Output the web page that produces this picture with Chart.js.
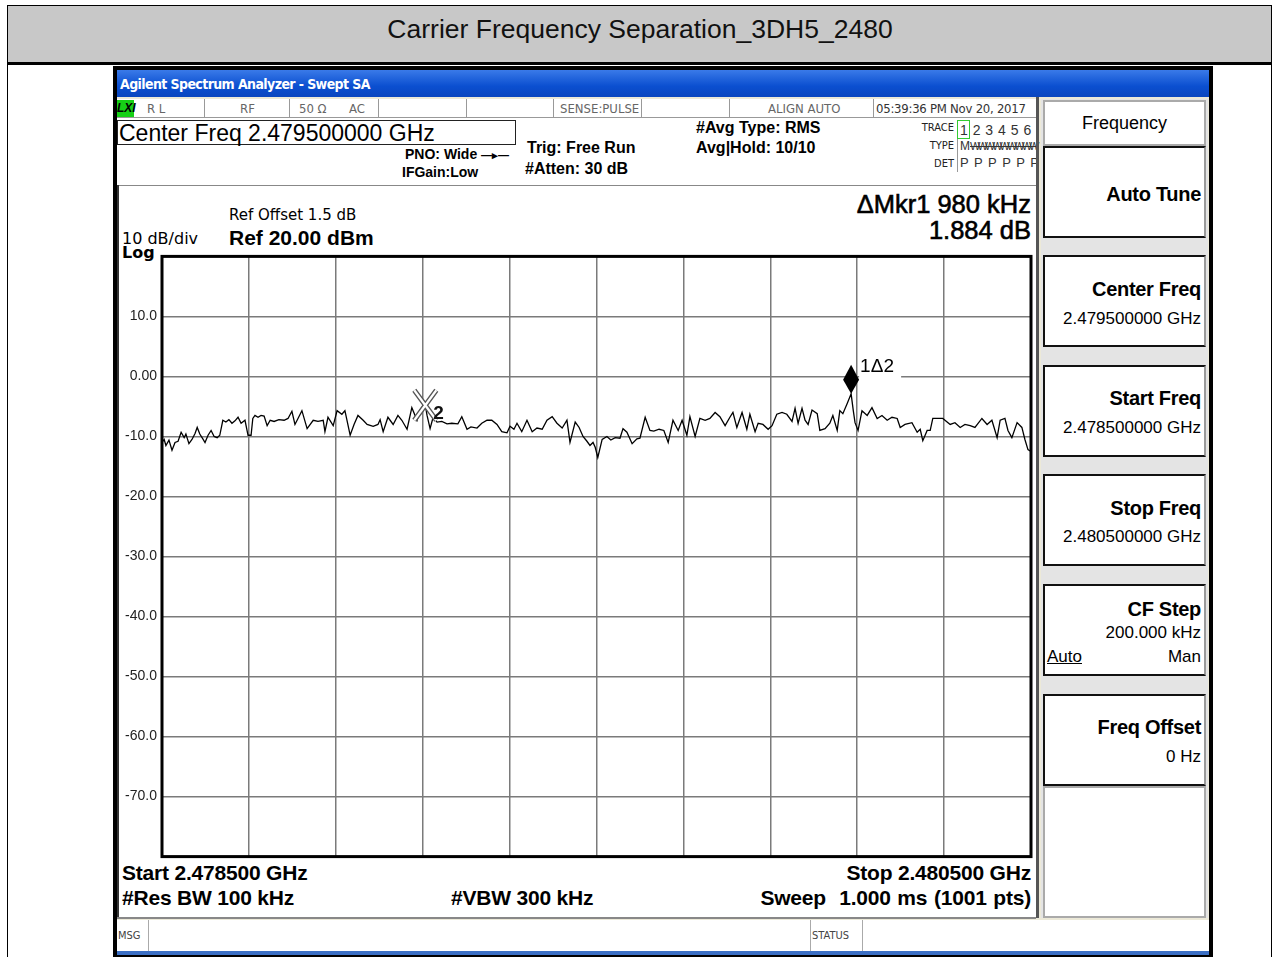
<!DOCTYPE html>
<html>
<head>
<meta charset="utf-8">
<script src="https://cdn.jsdelivr.net/npm/chart.js@4/dist/chart.umd.min.js"></script>
<style>
  body { margin: 0; width: 1273px; height: 957px; overflow: hidden; background: #fff;
         font-family: Arial, "Liberation Sans", sans-serif; position: relative; }
  .a { position: absolute; white-space: nowrap; line-height: 1; }
  .box { position: absolute; box-sizing: border-box; }
  .st { font-size: 13px; color: #666; font-family: "DejaVu Sans Condensed", "Liberation Sans Narrow", Arial, sans-serif; }
  .sep { position: absolute; top: 99px; height: 19px; width: 1px; background: #999; }
  .b15 { font-size: 16px; font-weight: bold; }
  .dv { font-family: "DejaVu Sans", Verdana, sans-serif; }
  .key { position: absolute; left: 1043px; width: 163px; height: 92px; box-sizing: border-box; background: #fff;
         border: 2px solid #111; border-right-color: #9a9a9a; }
  .kt { position: absolute; right: 3px; font-size: 20px; font-weight: bold; line-height: 1; letter-spacing: -0.3px; }
  .kv { position: absolute; right: 3px; font-size: 17px; line-height: 1; }
  .bot { font-size: 21px; font-weight: bold; letter-spacing: -0.2px; }
</style>
</head>
<body>
<!-- report title -->
<div class="box" style="left:7px;top:5px;width:1265px;height:60px;background:#c8c8c8;border:1px solid #000;border-bottom:3px solid #000;"></div>
<div class="a" style="left:0;width:1280px;text-align:center;top:16px;font-size:26.5px;color:#111;">Carrier Frequency Separation_3DH5_2480</div>
<div class="box" style="left:7px;top:64px;width:1px;height:893px;background:#000;"></div>
<div class="box" style="left:1271px;top:64px;width:1px;height:893px;background:#000;"></div>

<!-- analyzer frame -->
<div class="box" style="left:113px;top:66px;width:1100px;height:891px;background:#000;"></div>
<div class="box" style="left:117px;top:70px;width:1092px;height:884px;background:#ece9d8;"></div>
<div class="box" style="left:117px;top:70px;width:1092px;height:27px;background:linear-gradient(#3a7ae8,#0b4fd0 60%,#0a46bf);"></div>
<div class="a" style="left:120px;top:77px;font-size:14px;font-weight:bold;color:#fff;letter-spacing:-0.6px;font-family:'DejaVu Sans Condensed','Liberation Sans Narrow',Arial,sans-serif;">Agilent Spectrum Analyzer - Swept SA</div>

<!-- main white area -->
<div class="box" style="left:117px;top:99px;width:919px;height:819px;background:#fff;"></div>
<div class="box" style="left:117px;top:117px;width:919px;height:1px;background:#999;"></div>
<div class="box" style="left:117px;top:100px;width:17px;height:17px;background:#16d016;"></div>
<div class="a" style="left:117px;top:102px;font-size:12px;font-weight:bold;font-style:italic;">LXI</div>
<div class="a st" style="left:147px;top:102px;">R L</div>
<div class="sep" style="left:204px;"></div>
<div class="a st" style="left:240px;top:102px;">RF</div>
<div class="sep" style="left:289px;"></div>
<div class="a st" style="left:299px;top:102px;">50 Ω</div>
<div class="a st" style="left:349px;top:102px;">AC</div>
<div class="sep" style="left:378px;"></div>
<div class="sep" style="left:466px;"></div>
<div class="sep" style="left:553px;"></div>
<div class="a st" style="left:560px;top:102px;">SENSE:PULSE</div>
<div class="sep" style="left:641px;"></div>
<div class="sep" style="left:729px;"></div>
<div class="a st" style="left:768px;top:102px;">ALIGN AUTO</div>
<div class="sep" style="left:873px;"></div>
<div class="a st" style="left:876px;top:102px;color:#333;letter-spacing:-0.25px;">05:39:36 PM Nov 20, 2017</div>

<div class="box" style="left:117px;top:120px;width:399px;height:25px;border:1px solid #222;"></div>
<div class="a" style="left:119px;top:122px;font-size:23px;">Center Freq 2.479500000 GHz</div>
<div class="a" style="left:405px;top:147px;font-size:14px;font-weight:bold;">PNO: Wide <span style="font-size:11px;">—▸—</span></div>
<div class="a" style="left:402px;top:165px;font-size:14px;font-weight:bold;">IFGain:Low</div>
<div class="a b15" style="left:527px;top:140px;">Trig: Free Run</div>
<div class="a b15" style="left:525px;top:161px;">#Atten: 30 dB</div>
<div class="a b15" style="left:696px;top:120px;">#Avg Type: RMS</div>
<div class="a b15" style="left:696px;top:140px;">Avg|Hold: 10/10</div>

<div class="a st" style="right:319px;top:122px;color:#222;font-size:11px;">TRACE</div>
<div class="a st" style="right:319px;top:140px;color:#222;font-size:11px;">TYPE</div>
<div class="a st" style="right:319px;top:158px;color:#222;font-size:11px;">DET</div>
<div class="box" style="left:957px;top:120px;width:1px;height:52px;background:#999;"></div>
<div class="box" style="left:957px;top:120px;width:13px;height:19px;border:1px solid #3c3;"></div>
<div class="a" style="left:960px;top:123px;font-size:14px;color:#333;word-spacing:1px;">1 2 3 4 5 6</div>
<div class="a" style="left:960px;top:140px;font-size:12px;color:#333;">M<span style="text-decoration:line-through;letter-spacing:-3px;font-size:11px;">WWWWWWWWW</span></div>
<div class="a" style="left:960px;top:156px;font-size:13px;color:#333;word-spacing:2px;">P P P P P P</div>

<div class="box" style="left:117px;top:185px;width:919px;height:1px;background:#888;"></div>
<div class="box" style="left:117px;top:185px;width:2px;height:733px;background:#333;"></div>
<div class="box" style="left:117px;top:917px;width:919px;height:2px;background:#888;"></div>

<div class="a dv" style="left:229px;top:208px;font-size:15px;">Ref Offset 1.5 dB</div>
<div class="a" style="left:229px;top:227px;font-size:21px;font-weight:bold;">Ref 20.00 dBm</div>
<div class="a dv" style="left:122px;top:231px;font-size:16px;">10 dB/div</div>
<div class="a dv" style="left:122px;top:245px;font-size:16px;font-weight:bold;">Log</div>
<div class="a" style="right:242px;top:192px;font-size:25.5px;-webkit-text-stroke:0.6px #000;">ΔMkr1 980 kHz</div>
<div class="a" style="right:242px;top:218px;font-size:25.5px;-webkit-text-stroke:0.6px #000;">1.884 dB</div>

<div class="a bot" style="left:122px;top:862px;">Start 2.478500 GHz</div>
<div class="a bot" style="right:242px;top:862px;">Stop 2.480500 GHz</div>
<div class="a bot" style="left:122px;top:887px;">#Res BW 100 kHz</div>
<div class="a bot" style="left:451px;top:887px;">#VBW 300 kHz</div>
<div class="a bot" style="right:242px;top:887px;word-spacing:1px;">Sweep&nbsp;&nbsp;1.000 ms (1001 pts)</div>

<!-- msg row -->
<div class="box" style="left:117px;top:920px;width:1092px;height:31px;background:#fff;"></div>
<div class="box" style="left:117px;top:951px;width:1092px;height:4px;background:#3b6fc4;"></div>
<div class="a st" style="left:118px;top:930px;font-size:11px;color:#444;">MSG</div>
<div class="box" style="left:148px;top:920px;width:1px;height:31px;background:#aaa;"></div>
<div class="box" style="left:810px;top:920px;width:1px;height:31px;background:#aaa;"></div>
<div class="a st" style="left:812px;top:930px;font-size:11px;color:#444;">STATUS</div>
<div class="box" style="left:862px;top:920px;width:1px;height:31px;background:#aaa;"></div>

<!-- soft keys -->
<div class="box" style="left:1036px;top:97px;width:3px;height:821px;background:#555;"></div>
<div class="box" style="left:1041px;top:99px;width:167px;height:819px;background:#e4e4e4;"></div>
<div class="key" style="top:100px;height:46px;border-color:#aaa;"><div class="a" style="left:0;width:159px;text-align:center;top:12px;font-size:18px;">Frequency</div></div>
<div class="key" style="top:146px;"><div class="kt" style="top:36px;">Auto Tune</div></div>
<div class="key" style="top:255px;"><div class="kt" style="top:22px;">Center Freq</div><div class="kv" style="top:53px;">2.479500000 GHz</div></div>
<div class="key" style="top:365px;"><div class="kt" style="top:21px;">Start Freq</div><div class="kv" style="top:52px;">2.478500000 GHz</div></div>
<div class="key" style="top:474px;"><div class="kt" style="top:22px;">Stop Freq</div><div class="kv" style="top:52px;">2.480500000 GHz</div></div>
<div class="key" style="top:584px;"><div class="kt" style="top:13px;">CF Step</div><div class="kv" style="top:38px;">200.000 kHz</div>
  <div class="a" style="left:2px;top:62px;font-size:17px;text-decoration:underline;">Auto</div><div class="kv" style="top:62px;">Man</div></div>
<div class="key" style="top:694px;"><div class="kt" style="top:21px;">Freq Offset</div><div class="kv" style="top:52px;">0 Hz</div></div>
<div class="key" style="top:786px;height:132px;border-color:#aaa;"></div>

<!-- trace -->
<div class="box" style="left:118px;top:243px;width:918px;height:627px;">
  <canvas id="sa" width="918" height="627"></canvas>
</div>

<script>
// swept spectrum, MHz / dBm
const traceFreqMHz = [
  2478.500, 2478.505, 2478.509, 2478.516, 2478.523, 2478.530, 2478.537, 2478.544, 2478.551, 2478.555,
  2478.562, 2478.569, 2478.576, 2478.581, 2478.587, 2478.594, 2478.599, 2478.606, 2478.613, 2478.620,
  2478.627, 2478.633, 2478.640, 2478.647, 2478.654, 2478.661, 2478.668, 2478.675, 2478.682, 2478.691,
  2478.698, 2478.705, 2478.709, 2478.714, 2478.721, 2478.728, 2478.735, 2478.742, 2478.749, 2478.758,
  2478.769, 2478.781, 2478.790, 2478.799, 2478.806, 2478.813, 2478.822, 2478.834, 2478.848, 2478.859,
  2478.871, 2478.875, 2478.882, 2478.894, 2478.903, 2478.914, 2478.921, 2478.933, 2478.942, 2478.951,
  2478.963, 2478.972, 2478.986, 2478.997, 2479.002, 2479.009, 2479.020, 2479.032, 2479.043, 2479.052,
  2479.064, 2479.075, 2479.087, 2479.094, 2479.101, 2479.106, 2479.110, 2479.117, 2479.124, 2479.133,
  2479.144, 2479.156, 2479.167, 2479.181, 2479.190, 2479.202, 2479.211, 2479.225, 2479.236, 2479.248,
  2479.259, 2479.271, 2479.282, 2479.294, 2479.301, 2479.310, 2479.317, 2479.328, 2479.340, 2479.352,
  2479.363, 2479.375, 2479.386, 2479.398, 2479.409, 2479.421, 2479.432, 2479.439, 2479.451, 2479.460,
  2479.469, 2479.478, 2479.485, 2479.492, 2479.497, 2479.503, 2479.513, 2479.524, 2479.533, 2479.543,
  2479.554, 2479.561, 2479.570, 2479.582, 2479.593, 2479.600, 2479.612, 2479.623, 2479.632, 2479.644,
  2479.655, 2479.665, 2479.676, 2479.688, 2479.697, 2479.708, 2479.715, 2479.727, 2479.738, 2479.750,
  2479.761, 2479.773, 2479.784, 2479.796, 2479.807, 2479.814, 2479.823, 2479.835, 2479.846, 2479.853,
  2479.865, 2479.872, 2479.883, 2479.895, 2479.904, 2479.915, 2479.927, 2479.938, 2479.950, 2479.957,
  2479.964, 2479.973, 2479.980, 2479.987, 2479.996, 2480.008, 2480.014, 2480.026, 2480.037, 2480.044,
  2480.054, 2480.060, 2480.067, 2480.077, 2480.086, 2480.091, 2480.095, 2480.102, 2480.111, 2480.123,
  2480.134, 2480.146, 2480.157, 2480.169, 2480.180, 2480.192, 2480.199, 2480.210, 2480.226, 2480.238,
  2480.245, 2480.251, 2480.261, 2480.268, 2480.274, 2480.286, 2480.297, 2480.302, 2480.314, 2480.325,
  2480.337, 2480.348, 2480.360, 2480.371, 2480.387, 2480.399, 2480.410, 2480.422, 2480.429, 2480.440,
  2480.447, 2480.456, 2480.468, 2480.479, 2480.486, 2480.493, 2480.500
];
const traceLevel = [
  -11.0, -10.5, -11.5, -10.6, -12.3, -11.0, -10.8, -9.3, -10.2, -9.6,
  -11.2, -10.5, -9.5, -8.5, -9.6, -10.4, -11.0, -9.8, -9.0, -10.0,
  -10.2, -9.8, -7.3, -7.6, -7.2, -7.8, -7.4, -6.8, -7.8, -7.3,
  -9.8, -9.8, -7.0, -6.5, -6.8, -6.5, -6.6, -8.2, -7.3, -7.5,
  -7.2, -7.3, -7.0, -5.8, -8.0, -7.0, -5.7, -8.7, -7.3, -7.5,
  -7.3, -9.2, -6.8, -8.2, -5.7, -6.3, -5.7, -9.8, -8.0, -6.5,
  -7.3, -8.0, -8.3, -8.0, -7.2, -9.2, -6.8, -8.0, -6.5, -7.3,
  -8.8, -5.2, -7.3, -5.5, -4.9, -4.8, -6.5, -8.7, -6.8, -7.6,
  -7.5, -7.9, -7.8, -7.9, -6.7, -8.8, -8.4, -8.6, -7.8, -7.3,
  -7.3, -8.0, -9.2, -9.4, -8.3, -8.8, -7.8, -9.2, -7.3, -9.2,
  -8.6, -8.8, -7.3, -6.7, -7.8, -8.6, -7.3, -11.0, -7.6, -8.5,
  -10.0, -10.8, -11.5, -11.0, -11.8, -13.5, -10.5, -10.0, -10.6, -10.2,
  -10.3, -8.7, -9.3, -11.2, -10.4, -10.3, -6.8, -9.0, -9.1, -8.8,
  -9.0, -11.0, -7.3, -9.0, -7.3, -9.8, -6.7, -10.0, -7.0, -7.3,
  -7.0, -6.0, -6.7, -8.2, -6.8, -6.0, -8.5, -6.0, -8.8, -6.3,
  -9.2, -7.8, -8.0, -8.8, -8.2, -6.3, -6.0, -6.3, -7.5, -5.3,
  -7.8, -5.3, -7.3, -8.0, -5.6, -6.2, -9.0, -8.7, -7.8, -6.5,
  -9.0, -5.7, -6.2, -4.5, -2.9, -5.7, -7.7, -9.0, -5.7, -6.5,
  -5.2, -7.0, -6.5, -7.3, -6.8, -7.0, -8.5, -8.0, -7.7, -9.3,
  -8.8, -10.7, -9.0, -9.0, -7.0, -7.0, -7.0, -7.3, -8.0, -7.7,
  -8.5, -8.0, -8.2, -8.5, -7.0, -8.0, -7.3, -10.2, -7.3, -7.0,
  -9.0, -10.2, -7.7, -8.5, -10.5, -12.2, -12.5
];

// markers: 1 is the delta marker, 2 its reference
const markerFreqMHz = [2480.086, 2479.106];
const markerLevel = [-2.9, -4.8];
const markerLabels = ['1\u03942', '2'];

// screen scale: 10 dB/div from ref 20 dBm, 200 kHz/div
const startMHz = 2478.5, stopMHz = 2480.5, refLevel = 20, dbPerDiv = 10, divisions = 10;

const markerPlugin = {
  id: 'markers',
  afterDatasetsDraw(chart) {
    const { ctx, chartArea: a, scales: { x, y } } = chart;
    ctx.save();

    // reference marker: hollow X
    const rx = x.getPixelForValue(markerFreqMHz[1]);
    const ry = y.getPixelForValue(markerLevel[1]);
    ctx.lineCap = 'butt';
    [[5, '#555'], [2.2, '#fff']].forEach(([w, c]) => {
      ctx.lineWidth = w; ctx.strokeStyle = c;
      ctx.beginPath();
      ctx.moveTo(rx - 11, ry - 15); ctx.lineTo(rx + 11, ry + 15);
      ctx.moveTo(rx + 11, ry - 15); ctx.lineTo(rx - 11, ry + 15);
      ctx.stroke();
    });
    ctx.fillStyle = '#111';
    ctx.font = 'bold 19px Arial';
    ctx.textBaseline = 'middle';
    ctx.fillText(markerLabels[1], rx + 8, ry + 9);

    // delta marker: filled diamond sitting on the trace
    const mx = x.getPixelForValue(markerFreqMHz[0]);
    const my = y.getPixelForValue(markerLevel[0]);
    ctx.fillStyle = '#fff';
    ctx.fillRect(mx + 8, my - 38, 42, 24);
    ctx.fillStyle = '#000';
    ctx.beginPath();
    ctx.moveTo(mx, my); ctx.lineTo(mx - 8, my - 14);
    ctx.lineTo(mx, my - 29); ctx.lineTo(mx + 8, my - 14);
    ctx.closePath(); ctx.fill();
    ctx.font = '19px Arial';
    ctx.fillText(markerLabels[0], mx + 9, my - 27);

    // graticule frame
    ctx.lineWidth = 3;
    ctx.strokeStyle = '#000';
    ctx.strokeRect(a.left, a.top, a.right - a.left, a.bottom - a.top);
    ctx.restore();
  }
};

new Chart(document.getElementById('sa'), {
  type: 'line',
  data: {
    datasets: [{
      data: traceFreqMHz.map((f, i) => ({ x: f, y: traceLevel[i] })),
      borderColor: '#000',
      borderWidth: 1.3,
      pointRadius: 0,
      tension: 0
    }]
  },
  options: {
    responsive: false,
    animation: false,
    devicePixelRatio: 1,
    layout: { padding: { left: 0, top: 6, right: 5, bottom: 5 } },
    plugins: { legend: { display: false }, tooltip: { enabled: false } },
    scales: {
      x: {
        type: 'linear',
        min: startMHz,
        max: stopMHz,
        afterBuildTicks: s => {
          s.ticks = [];
          for (let i = 0; i <= divisions; i++) s.ticks.push({ value: startMHz + i * (stopMHz - startMHz) / divisions });
        },
        afterFit: s => { s.height = 0; },
        ticks: { display: false },
        border: { display: false },
        grid: { color: '#7a7a7a', lineWidth: 1.5, drawTicks: false }
      },
      y: {
        min: refLevel - dbPerDiv * divisions,
        max: refLevel,
        afterBuildTicks: s => {
          s.ticks = [];
          for (let i = 0; i <= divisions; i++) s.ticks.push({ value: refLevel - i * dbPerDiv });
        },
        afterFit: s => { s.width = 44; },
        border: { display: false },
        grid: { color: '#7a7a7a', lineWidth: 1.5, drawTicks: false },
        ticks: {
          padding: 5,
          color: '#222',
          font: { family: 'Arial', size: 14 },
          callback: v => (v === refLevel || v === refLevel - dbPerDiv * divisions) ? null : (v === 0 ? '0.00' : v.toFixed(1))
        }
      }
    }
  },
  plugins: [markerPlugin]
});
</script>
</body>
</html>
